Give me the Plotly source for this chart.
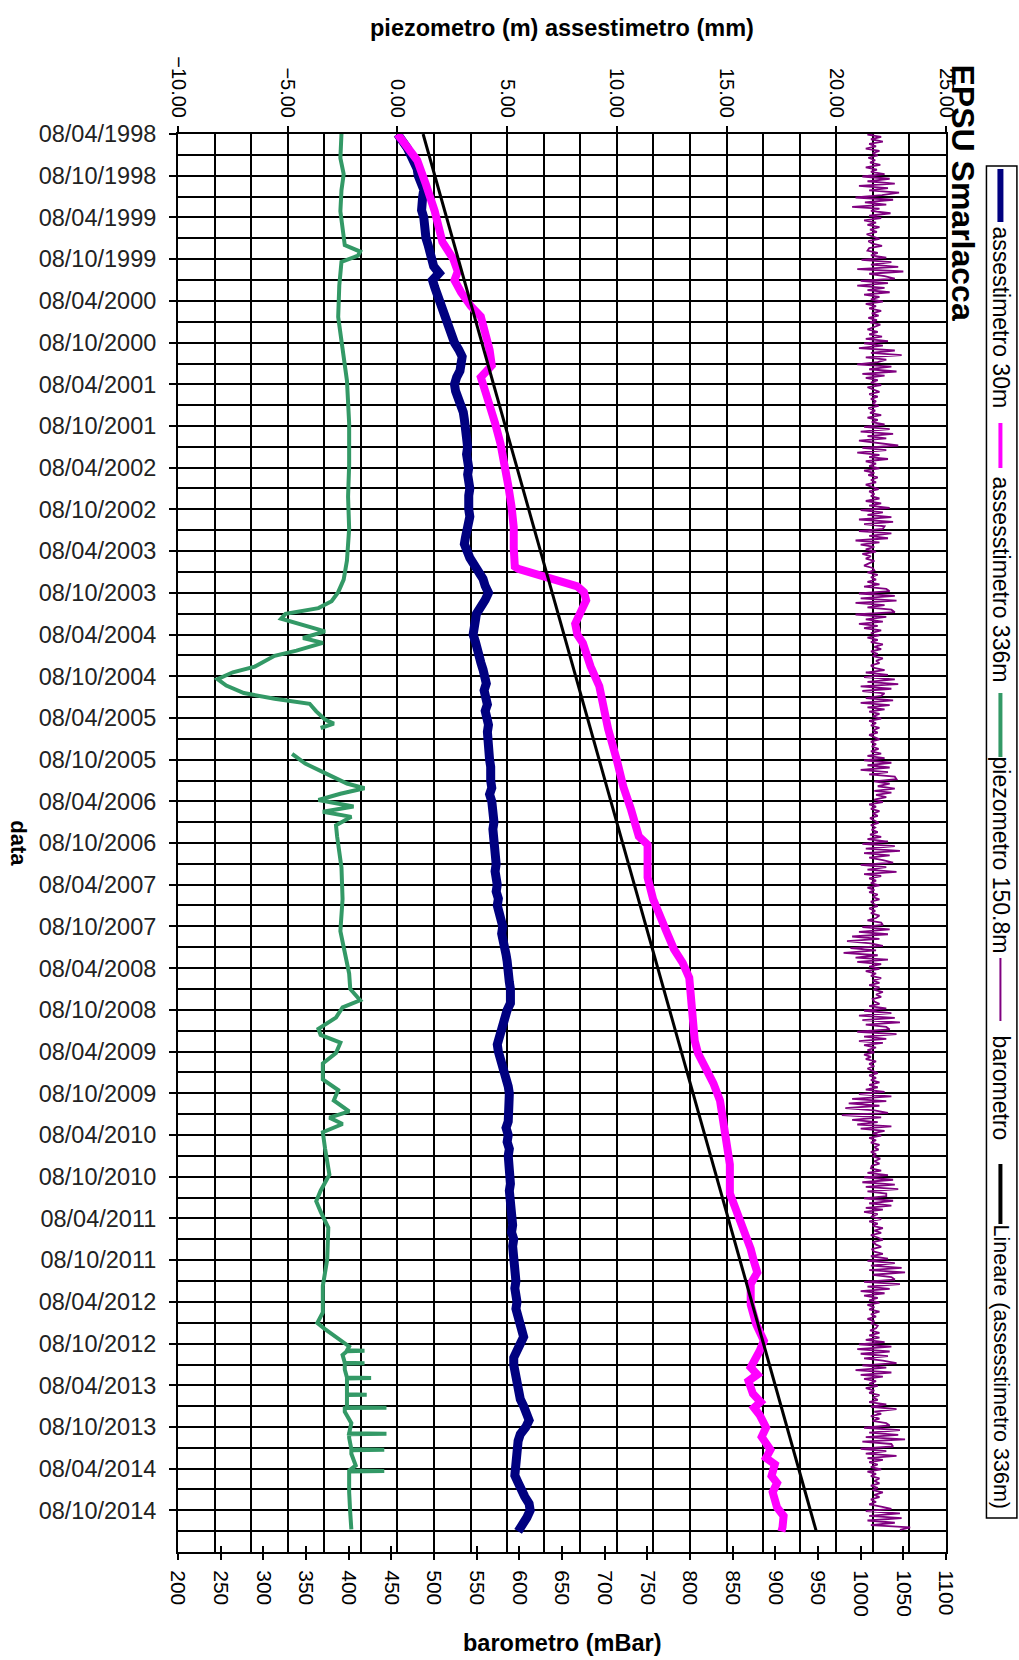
import plotly.graph_objects as go

# ---------------- data ----------------
# assestimetro 30m (mm): monthly readings (8th of each month)
blue_table = {
    1998: [None, None, None, 0.0, 0.25, 0.45, 0.6, 0.8, 0.9, 0.95, 1.1, 1.2],
    1999: [1.15, 1.1, 1.1, 1.2, 1.2, 1.3, 1.3, 1.4, 1.5, 1.6, 1.65, 1.9],
    2000: [1.6, 1.7, 1.8, 1.95, 2.05, 2.1, 2.2, 2.35, 2.45, 2.6, 2.8, 2.95],
    2001: [2.9, 2.85, 2.7, 2.6, 2.65, 2.8, 2.9, 3.0, 3.05, 3.1, 3.15, 3.2],
    2002: [3.2, 3.15, 3.2, 3.25, 3.2, 3.3, 3.3, 3.25, 3.2, 3.25, 3.3, 3.2],
    2003: [3.15, 3.1, 3.05, 3.15, 3.3, 3.5, 3.75, 3.9, 4.0, 4.15, 4.0, 3.75],
    2004: [3.6, 3.55, 3.5, 3.45, 3.55, 3.6, 3.7, 3.8, 3.9, 4.0, 4.05, 3.95],
    2005: [4.05, 4.1, 4.0, 4.1, 4.15, 4.1, 4.15, 4.2, 4.15, 4.2, 4.25, 4.2],
    2006: [4.25, 4.3, 4.2, 4.3, 4.35, 4.3, 4.4, 4.35, 4.4, 4.45, 4.4, 4.45],
    2007: [4.5, 4.45, 4.5, 4.55, 4.5, 4.6, 4.55, 4.65, 4.7, 4.8, 4.75, 4.85],
    2008: [4.9, 4.95, 5.0, 5.0, 5.05, 5.1, 5.15, 5.2, 5.15, 5.0, 4.9, 4.8],
    2009: [4.7, 4.6, 4.55, 4.6, 4.7, 4.8, 4.85, 4.95, 5.05, 5.1, 5.1, 5.05],
    2010: [5.0, 5.05, 4.95, 5.05, 5.0, 5.1, 5.05, 5.1, 5.05, 5.1, 5.15, 5.1],
    2011: [5.15, 5.2, 5.15, 5.2, 5.25, 5.2, 5.3, 5.25, 5.3, 5.35, 5.4, 5.35],
    2012: [5.4, 5.35, 5.4, 5.45, 5.4, 5.5, 5.6, 5.7, 5.75, 5.6, 5.4, 5.3],
    2013: [5.3, 5.35, 5.4, 5.5, 5.45, 5.6, 5.75, 5.9, 6.0, 5.85, 5.6, 5.5],
    2014: [5.45, 5.4, 5.45, 5.4, 5.35, 5.5, 5.6, 5.8, 6.0, 6.05, 5.9, 5.7],
    2015: [5.5],
}

# assesstimetro 336m (mm)
mag_dates = ["1998-04-08","1998-06-01","1998-08-01","1998-11-15","1999-03-12","1999-07-25","1999-10-08","1999-12-01",
             "2000-01-08","2000-03-01","2000-05-01","2000-06-15","2000-09-20","2000-11-08","2001-01-15","2001-03-08",
             "2001-05-08","2001-06-20","2001-09-25","2001-12-25","2002-03-25","2002-06-25","2002-09-25","2002-12-25",
             "2003-03-25","2003-06-15","2003-06-25","2003-07-10","2003-08-05","2003-09-10","2003-10-05","2003-11-10",
             "2004-02-20","2004-04-08","2004-05-15","2004-08-25","2004-11-20","2005-02-10","2005-05-25","2005-10-10",
             "2006-02-05","2006-05-15","2006-07-20","2006-09-08","2006-10-15","2007-03-08","2007-06-10","2007-08-20",
             "2007-10-28","2008-01-15","2008-03-15","2008-05-20","2008-10-20","2009-02-20","2009-04-15","2009-06-20",
             "2009-08-25","2009-11-08","2010-02-10","2010-05-10","2010-08-15","2010-12-20","2011-03-15","2011-06-10",
             "2011-08-20","2011-10-15","2011-12-01","2012-01-20","2012-04-20","2012-07-15","2012-09-25","2012-11-10",
             "2013-01-20","2013-02-20","2013-03-20","2013-05-15","2013-06-20","2013-07-15","2013-08-15","2013-10-10",
             "2013-11-20","2014-01-15","2014-02-20","2014-03-20","2014-05-10","2014-06-10","2014-07-20","2014-09-25",
             "2014-11-01","2014-12-20","2015-01-08"]
mag_vals = [0.0,0.45,0.9,1.3,1.7,2.05,2.55,2.75,
            2.6,2.9,3.35,3.8,4.1,4.2,4.3,3.8,
            4.0,4.15,4.45,4.7,4.9,5.05,5.2,5.3,
            5.3,5.35,5.5,6.0,7.0,8.2,8.5,8.6,
            8.1,8.2,8.45,8.8,9.2,9.35,9.6,10.0,
            10.3,10.65,10.8,11.0,11.4,11.4,11.65,12.0,
            12.25,12.6,13.0,13.3,13.45,13.55,13.7,14.1,
            14.4,14.7,14.85,15.05,15.15,15.15,15.5,15.8,
            16.1,16.25,16.4,16.1,16.1,16.35,16.7,16.5,
            16.1,16.4,16.0,16.2,16.55,16.25,16.5,16.8,
            16.6,17.0,16.8,17.2,17.05,17.3,17.1,17.3,
            17.6,17.55,17.5]

# piezometro 150.8m (m); None = no reading
green_dates = ["1998-04-08","1998-07-23","1998-10-01","1998-12-10","1999-03-12","1999-06-14","1999-08-08","1999-09-05",
               "1999-09-23","1999-10-20","2000-02-01","2000-06-17","2000-11-05","2001-03-23","2001-09-25","2002-03-27",
               "2002-08-13","2002-12-31","2003-05-20","2003-08-11","2003-10-05","2003-11-14","2003-12-14","2004-01-08",
               "2004-01-29","2004-02-22","2004-03-25","2004-04-23","2004-05-14","2004-06-17","2004-07-10","2004-08-26",
               "2004-09-20","2004-10-20","2004-11-17","2004-12-20","2005-01-14","2005-02-05","2005-03-10","2005-04-15",
               "2005-05-03","2005-05-22","2005-07-15","2005-09-12","2005-10-25","2005-12-10","2006-01-20","2006-02-10",
               "2006-03-06","2006-04-02","2006-05-01","2006-05-24","2006-06-15","2006-07-22","2006-09-08","2007-01-23",
               "2007-06-10","2007-10-28","2008-01-28","2008-05-01","2008-07-08","2008-08-26","2008-09-26","2008-11-10",
               "2008-12-29","2009-01-25","2009-02-28","2009-04-14","2009-05-30","2009-08-08","2009-09-23","2009-11-08",
               "2009-12-26","2010-01-22","2010-02-19","2010-03-27","2010-06-05","2010-09-29","2010-12-08","2011-01-23",
               "2011-03-10","2011-05-19","2011-10-05","2012-01-29","2012-05-24","2012-07-09","2012-08-05","2012-09-17",
               "2012-10-20","2012-11-06","2012-11-08","2012-11-10","2012-11-26","2012-12-30","2013-01-01","2013-01-03",
               "2013-01-29","2013-03-05","2013-03-07","2013-03-09","2013-04-03","2013-05-17","2013-05-19","2013-05-21",
               "2013-06-21","2013-07-13","2013-07-15","2013-07-17","2013-08-02","2013-09-21","2013-11-04","2013-11-06",
               "2013-11-08","2013-11-24","2014-01-13","2014-01-15","2014-01-17","2014-02-02","2014-03-25","2014-04-16",
               "2014-04-18","2014-04-20","2014-05-06","2014-07-20","2014-10-20","2014-12-30"]
green_vals = [-2.55,-2.6,-2.45,-2.55,-2.6,-2.5,-2.4,-1.7,
              -1.8,-2.55,-2.65,-2.7,-2.5,-2.3,-2.2,-2.2,
              -2.25,-2.2,-2.3,-2.45,-2.7,-3.0,-3.6,-5.1,
              -5.3,-4.5,-3.3,-4.3,-3.4,-4.6,-5.6,-6.5,
              -7.5,-8.2,-7.8,-7.0,-5.6,-4.0,-3.7,-3.3,
              -2.9,-3.5,None,-4.8,-4.2,-3.2,-2.3,-1.5,
              -2.6,-3.6,-2.0,-3.4,-2.1,-2.8,-2.75,-2.55,
              -2.5,-2.6,-2.4,-2.2,-2.15,-1.7,-2.5,-2.8,
              -3.6,-3.5,-2.6,-2.8,-3.4,-3.4,-2.7,-2.9,
              -2.2,-3.1,-2.5,-3.4,-3.3,-3.1,-3.5,-3.7,
              -3.5,-3.15,-3.2,-3.4,-3.4,-3.65,-3.3,-2.7,
              -2.2,-2.3,-1.5,-2.3,-2.5,-2.4,-1.5,-2.4,
              -2.4,-2.3,-1.2,-2.3,-2.3,-2.3,-1.4,-2.3,
              -2.3,-2.3,-0.5,-2.4,-2.4,-2.1,-2.2,-0.5,
              -2.2,-2.2,-2.1,-0.6,-2.1,-2.1,-1.9,-2.2,
              -0.6,-2.2,-2.2,-2.2,-2.15,-2.1]

# barometro (mbar): readings on the 1st, 11th and 21st of each month
baro_table = {
    1998: [None]*9 + [1020,1008,1024, 1012,1026,1010, 1018,1006,1022, 1014,1020,1009, 1017,1011,1023, 1006,1019,1012,
                      1028,1002,1034, 1008,1040,998, 1032,1010,1045],
    1999: [1025,994,1038, 1005,1030,990, 1022,1012,1035, 1010,1024,1004, 1018,1008,1022, 1011,1019,1007,
           1016,1022,1009, 1014,1025,1010, 1008,1020,1012, 1030,1001,1036, 1012,1044,996, 1050,1010,1028],
    2000: [1040,1000,1032, 996,1028,1008, 1034,1004,1022, 1012,1026,1006, 1018,1010,1024, 1013,1021,1009,
           1019,1011,1023, 1015,1008,1020, 1010,1025,1006, 1032,1004,1026, 998,1040,1012, 1048,1006,1030],
    2001: [1020,996,1036, 1010,1042,1002, 1028,1006,1020, 1012,1024,1008, 1016,1022,1010, 1020,1012,1018,
           1014,1021,1009, 1017,1011,1024, 1008,1020,1013, 1028,1004,1034, 1000,1038,1008, 1030,998,1024],
    2002: [1044,1002,1030, 996,1022,1010, 1032,1006,1018, 1010,1022,1004, 1016,1009,1020, 1012,1018,1006,
           1014,1021,1010, 1016,1012,1022, 1006,1024,1010, 1034,1000,1026, 1008,1036,998, 1038,1004,1028],
    2003: [1026,998,1036, 1010,1032,994, 1022,1000,1016, 1006,1018,1002, 1012,1006,1016, 1010,1004,1014,
           1016,1008,1020, 1012,1018,1008, 1022,1004,1030, 1034,998,1040, 1000,1042,994, 1028,1008,1036],
    2004: [1040,994,1030, 1006,1026,998, 1020,1004,1024, 1012,1022,1008, 1020,1012,1026, 1016,1024,1012,
           1020,1014,1026, 1018,1022,1012, 1016,1028,1006, 1032,1004,1040, 1008,1044,1000, 1036,1002,1028],
    2005: [1024,1006,1038, 1000,1034,1008, 1028,1010,1022, 1014,1024,1010, 1018,1012,1022, 1014,1020,1010,
           1016,1022,1012, 1018,1013,1021, 1012,1024,1008, 1028,1004,1036, 1008,1034,1000, 1032,1010,1040],
    2006: [1042,1016,1034, 1020,1040,1016, 1036,1018,1030, 1016,1026,1010, 1018,1012,1022, 1014,1020,1011,
           1016,1021,1012, 1017,1013,1020, 1011,1024,1008, 1032,1002,1040, 1006,1046,1004, 1034,1010,1026],
    2007: [1038,1000,1030, 1008,1042,1004, 1024,1010,1018, 1012,1022,1008, 1016,1010,1020, 1014,1022,1012,
           1015,1020,1010, 1017,1012,1022, 1018,1008,1024, 1026,1002,1034, 998,1032,990, 1022,984,1012],
    2008: [1026,988,1018, 980,1020,994, 1032,996,1024, 1010,1022,1006, 1018,1012,1024, 1014,1022,1010,
           1022,1015,1026, 1018,1024,1014, 1016,1022,1010, 1030,1004,1036, 998,1040,1002, 1046,1006,1030],
    2009: [1034,996,1042, 1004,1030,998, 1026,1004,1018, 1008,1016,1004, 1012,1006,1018, 1010,1016,1008,
           1014,1020,1010, 1018,1012,1022, 1010,1020,1006, 1028,998,1036, 990,1030,986, 1022,982,1016],
    2010: [1032,978,1024, 990,1020,996, 1036,1000,1028, 1014,1024,1010, 1018,1012,1022, 1016,1021,1012,
           1018,1014,1023, 1016,1022,1013, 1012,1024,1008, 1032,1004,1038, 1002,1040,1006, 1044,1008,1030],
    2011: [1030,1004,1038, 1010,1036,1006, 1026,1004,1020, 1012,1024,1010, 1020,1014,1026, 1016,1024,1012,
           1020,1026,1014, 1018,1024,1013, 1016,1026,1012, 1032,1008,1040, 1012,1048,1010, 1052,1014,1036],
    2012: [1040,1004,1046, 1008,1034,1000, 1028,1004,1020, 1010,1022,1008, 1016,1010,1022, 1012,1018,1008,
           1016,1012,1020, 1018,1011,1022, 1010,1022,1006, 1028,998,1036, 996,1034,1000, 1032,1004,1026],
    2013: [1042,1002,1030, 994,1036,1000, 1026,1004,1018, 1010,1020,1006, 1016,1010,1022, 1014,1020,1010,
           1030,1012,1042, 1016,1024,1012, 1022,1014,1030, 1034,1004,1046, 1010,1044,1006, 1052,1002,1036],
    2014: [1038,1000,1030, 1006,1042,1008, 1026,1010,1020, 1012,1024,1008, 1018,1012,1022, 1016,1022,1012,
           1020,1014,1026, 1016,1022,1012, 1018,1010,1024, 1036,1006,1046, 1010,1048,1008, 1040,1012,1058],
    2015: [1046],
}

# linear trend of assesstimetro 336m
trend_dates = ["1998-04-08", "2015-01-08"]
trend_vals = [1.17, 19.09]

date_tick_years = list(range(1998, 2015))
date_tick_months = ["04", "10"]
x_top_ticks = [-10, -5, 0, 5, 10, 15, 20, 25]
baro_ticks = list(range(200, 1101, 50))

names = ["assestimetro 30m", "assesstimetro 336m", "piezometro 150.8m", "barometro",
         "Lineare (assesstimetro 336m)"]
colors = ["#000080", "#FF00FF", "#339966", "#800080", "#000000"]

# ---------------- build ----------------
blue_dates, blue_vals = [], []
for yr, vals in blue_table.items():
    for i, v in enumerate(vals):
        if v is None:
            continue
        blue_dates.append(f"{yr}-{i + 1:02d}-08")
        blue_vals.append(v)

baro_dates, baro_vals = [], []
for yr, vals in baro_table.items():
    for i, v in enumerate(vals):
        if v is None:
            continue
        m = i // 3 + 1
        d = (1, 11, 21)[i % 3]
        baro_dates.append(f"{yr}-{m:02d}-{d:02d}")
        baro_vals.append(v)

date_ticks = [f"{y}-{m}-08" for y in date_tick_years for m in date_tick_months]

W, H = 1019, 1660
PL, PR, PT, PB = 177.5, 946.5, 134, 1552
def px(x): return (x - PL) / (PR - PL)
def py(y): return (PB - y) / (PB - PT)

FONT = "Liberation Sans, Arial, sans-serif"

fig = go.Figure()
fig.add_trace(go.Scatter(x=blue_vals, y=blue_dates, mode="lines", line=dict(color=colors[0], width=9),
                         xaxis="x", yaxis="y", showlegend=False))
fig.add_trace(go.Scatter(x=mag_vals, y=mag_dates, mode="lines", line=dict(color=colors[1], width=8),
                         xaxis="x", yaxis="y", showlegend=False))
fig.add_trace(go.Scatter(x=green_vals, y=green_dates, mode="lines", line=dict(color=colors[2], width=4),
                         connectgaps=False, xaxis="x", yaxis="y", showlegend=False))
fig.add_trace(go.Scatter(x=baro_vals, y=baro_dates, mode="lines", line=dict(color=colors[3], width=1.8),
                         xaxis="x2", yaxis="y", showlegend=False))
fig.add_trace(go.Scatter(x=trend_vals, y=trend_dates, mode="lines", line=dict(color=colors[4], width=3),
                         xaxis="x", yaxis="y", showlegend=False))
fig.add_trace(go.Scatter(x=[None], y=[None], xaxis="x3", yaxis="y", showlegend=False, hoverinfo="skip"))

tickfont = dict(family=FONT, size=20, color="black")

fig.update_layout(
    width=W, height=H,
    margin=dict(l=PL, r=W - PR, t=PT, b=H - PB, pad=0),
    paper_bgcolor="white", plot_bgcolor="white",
    showlegend=False,
    yaxis=dict(type="date", range=["2015-04-08", "1998-04-08"], tickmode="array", tickvals=date_ticks,
               tickformat="%d/%m/%Y", ticks="outside", ticklen=7, tickwidth=2, tickcolor="black",
               showline=True, linecolor="black", linewidth=2, mirror=True,
               showgrid=True, gridcolor="black", gridwidth=2, zeroline=False,
               tickfont=dict(family=FONT, size=23.5, color="#222"), ticklabelstandoff=8,
               minor=dict(tickmode="linear", tick0="1998-04-08", dtick="M3", showgrid=True,
                          gridcolor="black", gridwidth=2, ticks="")),
    xaxis=dict(side="top", range=[-10, 25], tickvals=x_top_ticks, tickformat=".2f", tickangle=90,
               ticks="outside", ticklen=6, tickwidth=2, tickcolor="black",
               showline=True, linecolor="black", linewidth=2, mirror=True,
               showgrid=True, gridcolor="black", gridwidth=2, zeroline=False,
               tickfont=tickfont, ticklabelstandoff=1,
               minor=dict(tickmode="linear", tick0=-10, dtick=5/3, showgrid=True, gridcolor="black",
                          gridwidth=2, ticks="")),
    xaxis2=dict(side="bottom", overlaying="x", anchor="y", range=[200, 1100], tickvals=baro_ticks, tickangle=90,
                ticks="outside", ticklen=6, tickwidth=2, tickcolor="black", showgrid=False, zeroline=False,
                showline=True, linecolor="black", linewidth=2,
                tickfont=dict(family=FONT, size=21, color="black"), ticklabelstandoff=6),
    xaxis3=dict(side="bottom", overlaying="x", anchor="y", range=[200, 1100], tickvals=baro_ticks,
                ticks="inside", ticklen=6, tickwidth=2, tickcolor="black", showgrid=False, zeroline=False,
                showticklabels=False, showline=False),
)

ann = []
ann.append(dict(text="<b>piezometro (m) assestimetro (mm)</b>", x=0.5, y=py(28), xref="paper", yref="paper",
                showarrow=False, font=dict(family=FONT, size=23.5, color="black"), xanchor="center", yanchor="middle"))
ann.append(dict(text="<b>barometro (mBar)</b>", x=0.5, y=py(1643), xref="paper", yref="paper",
                showarrow=False, font=dict(family=FONT, size=23.5, color="black"), xanchor="center", yanchor="middle"))
ann.append(dict(text="<b>data</b>", x=px(18), y=py(843), xref="paper", yref="paper", textangle=90,
                showarrow=False, font=dict(family=FONT, size=22, color="black"), xanchor="center", yanchor="middle"))
ann.append(dict(text="<b>EPSU Smarlacca</b>", x=px(964), y=py(193), xref="paper", yref="paper", textangle=90,
                showarrow=False, font=dict(family=FONT, size=32, color="black"), xanchor="center", yanchor="middle"))

shapes = [dict(type="rect", xref="paper", yref="paper", x0=px(987), x1=px(1017.5), y0=py(166), y1=py(1518),
               line=dict(color="black", width=1.5), fillcolor="white", layer="above")]
leg_items = [  # (sample y0, y1, text centre y, line width, font size)
    (169, 222, 318, 6, 23),
    (423, 468, 580, 4, 23),
    (693, 757, 855, 4, 23),
    (958, 1021, 1088, 2, 23),
    (1164, 1224, 1367, 4, 21.5),
]
for (s0, s1, tc, lw, fs), name, col in zip(leg_items, names, colors):
    shapes.append(dict(type="line", xref="paper", yref="paper", x0=px(1001), x1=px(1001), y0=py(s0), y1=py(s1),
                       line=dict(color=col, width=lw), layer="above"))
    ann.append(dict(text=name, x=px(1002), y=py(tc), xref="paper", yref="paper", textangle=90,
                    showarrow=False, font=dict(family=FONT, size=fs, color="black"),
                    xanchor="center", yanchor="middle"))

fig.update_layout(annotations=ann, shapes=shapes)
fig.write_html("out.html")
